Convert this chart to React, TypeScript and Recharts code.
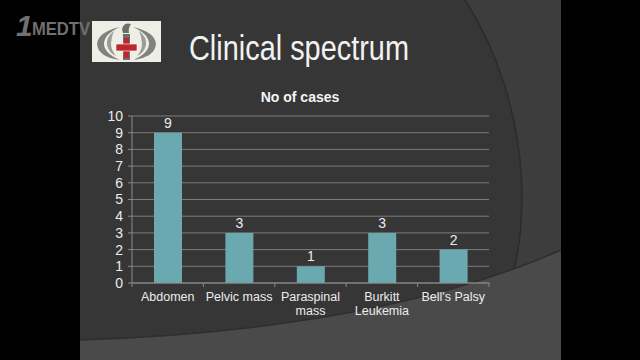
import React from "react";
import { BarChart, Bar, XAxis, YAxis, CartesianGrid, LabelList } from "recharts";

const categories = ["Abdomen", "Pelvic mass", "Paraspinal\nmass", "Burkitt\nLeukemia", "Bell's Palsy"];
const cases = [9, 3, 1, 3, 2];
const yTicks = [0, 1, 2, 3, 4, 5, 6, 7, 8, 9, 10];

const data = categories.map((name, i) => ({ name, cases: cases[i] }));

const AXIS = "#8a8a8a";
const TEXT = "#ececec";
const FONT = "'Liberation Sans', Arial, sans-serif";
const PLOT_W = 357;

const CategoryTick = (props: any) => {
  const { x, y, payload, index } = props;
  const off =
    payload && typeof payload.offset === "number" && payload.offset > 0
      ? payload.offset
      : PLOT_W / categories.length / 2;
  const lines = String(payload.value).split("\n");
  return (
    <g>
      <line x1={x - off} y1={y} x2={x - off} y2={y + 4} stroke={AXIS} />
      {index === categories.length - 1 && (
        <line x1={x + off} y1={y} x2={x + off} y2={y + 4} stroke={AXIS} />
      )}
      <text x={x} y={y + 18} textAnchor="middle" fill={TEXT} fontSize={12.5} fontFamily={FONT}>
        {lines.map((l, i) => (
          <tspan key={i} x={x} dy={i === 0 ? 0 : 14}>
            {l}
          </tspan>
        ))}
      </text>
    </g>
  );
};

const Background = () => (
  <svg width={640} height={360} style={{ position: "absolute", left: 0, top: 0 }}>
    <rect x={0} y={0} width={640} height={360} fill="#000" />
    <rect x={80} y={0} width={481} height={360} fill="#363636" />
    <path d="M465,0 C530,100 548,260 473,360 L561,360 L561,0 Z" fill="#3d3d3d" />
    <path d="M465,0 C530,100 548,260 473,360" fill="none" stroke="#2c2c2c" strokeWidth={1.5} />
    <path d="M80,340 Q380,330 561,250 L561,360 L80,360 Z" fill="#4a4a4a" />
    <path d="M80,340 Q380,330 561,250" fill="none" stroke="#2e2e2e" strokeWidth={1.5} />
    {/* watermark */}
    <text x={16} y={36} fill="#707070" fontSize={30} fontWeight="bold" fontStyle="italic" fontFamily={FONT}>
      1
    </text>
    <text x={32} y={35} fill="#707070" fontSize={19} fontWeight="bold" fontFamily={FONT}
      textLength={58} lengthAdjust="spacingAndGlyphs">
      MEDTV
    </text>
    {/* logo */}
    <rect x={92} y={21} width={69} height={41} fill="#efeee6" />
    <path d="M120,27 Q98,32 97,44 Q98,57 120,60 Q104,53 104,44 Q104,34 120,27 Z" fill="#7f827e" />
    <path d="M133,27 Q155,32 156,44 Q155,57 133,60 Q149,53 149,44 Q149,34 133,27 Z" fill="#7f827e" />
    <path d="M114,31 Q106,37 107,45 Q109,53 116,56 Q111,50 111,44 Q111,37 114,31 Z" fill="#9a9c98" />
    <path d="M139,31 Q147,37 146,45 Q144,53 137,56 Q142,50 142,44 Q142,37 139,31 Z" fill="#9a9c98" />
    <rect x={123} y={34} width={7} height={26} fill="#6d6f6c" />
    <path d="M122,29 Q124,22 131,24 Q128,28 129,33 L123,33 Z" fill="#6d6f6c" />
    <rect x={124} y={38} width={5} height={20} fill="#c0272d" />
    <rect x={116} y={44} width={21} height={7} fill="#c0272d" stroke="#fff" strokeWidth={0.6} />
    {/* slide title */}
    <text x={189} y={60} fill="#f2f2f2" fontSize={35} fontFamily={FONT}
      textLength={220} lengthAdjust="spacingAndGlyphs">
      Clinical spectrum
    </text>
    {/* chart title */}
    <text x={300} y={102} textAnchor="middle" fill="#f4f4f4" fontSize={14} fontWeight="bold" fontFamily={FONT}>
      No of cases
    </text>
  </svg>
);

export default function App() {
  return (
    <div style={{ position: "fixed", left: 0, top: 0, width: 640, height: 360, overflow: "hidden" }}>
      <Background />
      <div style={{ position: "absolute", left: 0, top: 0 }}>
        <BarChart
          width={640}
          height={360}
          data={data}
          margin={{ top: 116, right: 151, left: 102, bottom: 37 }}
        >
          <CartesianGrid vertical={false} stroke="#7c7c7c" />
          <XAxis
            dataKey="name"
            height={40}
            interval={0}
            tickSize={0}
            tickMargin={0}
            tickLine={false}
            axisLine={{ stroke: AXIS }}
            tick={<CategoryTick />}
          />
          <YAxis
            width={30}
            domain={[0, 10]}
            ticks={yTicks}
            interval={0}
            tickSize={4}
            tickMargin={5}
            axisLine={{ stroke: AXIS }}
            tickLine={{ stroke: AXIS }}
            tick={{ fill: TEXT, fontSize: 14, fontFamily: FONT }}
          />
          <Bar dataKey="cases" fill="#6ba9b1" barSize={28} isAnimationActive={false}>
            <LabelList
              dataKey="cases"
              position="top"
              offset={5}
              fill={TEXT}
              fontSize={14}
              fontFamily={FONT}
            />
          </Bar>
        </BarChart>
      </div>
    </div>
  );
}
